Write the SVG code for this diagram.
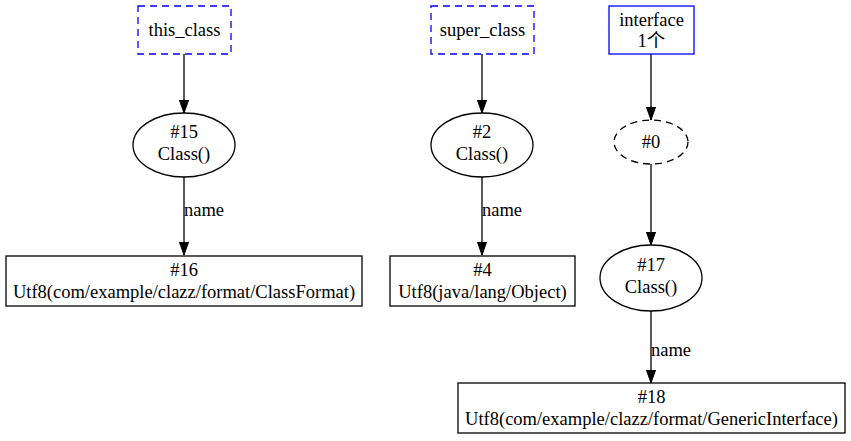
<svg xmlns="http://www.w3.org/2000/svg" width="851" height="441" viewBox="0 0 851 441">
<defs>
<marker id="arr" markerWidth="14" markerHeight="10" refX="13.3" refY="4.7" orient="auto" markerUnits="userSpaceOnUse">
<path d="M0,0 L13.3,4.7 L0,9.4 Z" fill="#000" stroke="#000" stroke-width="1"/>
</marker>
</defs>
<style>
text{font-family:"Liberation Serif","Times New Roman",serif;font-size:18.5px;fill:#000;text-anchor:middle}
.lbl{text-anchor:start}
.dash{fill:none;stroke:#0000ff;stroke-width:1.3;stroke-dasharray:7,5}
.blue{fill:none;stroke:#0000ff;stroke-width:1.3}
.box{fill:none;stroke:#000;stroke-width:1.3}
.ell{fill:none;stroke:#000;stroke-width:1.3}
.dell{fill:none;stroke:#000;stroke-width:1.3;stroke-dasharray:7,5}
.edge{fill:none;stroke:#000;stroke-width:1.3;marker-end:url(#arr)}
</style>
<rect width="851" height="441" fill="#fff"/>
<g id="connectors">
<line class="edge" x1="184" y1="54" x2="184" y2="113"/>
<line class="edge" x1="184" y1="177" x2="184" y2="255"/>
<text class="lbl" x="184" y="216">name</text>
<line class="edge" x1="482" y1="54" x2="482" y2="113"/>
<line class="edge" x1="482" y1="177" x2="482" y2="255"/>
<text class="lbl" x="482" y="216">name</text>
<line class="edge" x1="651" y1="54" x2="651" y2="120"/>
<line class="edge" x1="651" y1="164" x2="651" y2="245"/>
<line class="edge" x1="651" y1="311" x2="651" y2="383"/>
<text class="lbl" x="651" y="356">name</text>
</g>
<g id="this_class">
<rect class="dash" x="138" y="6" width="93" height="48"/>
<text x="184.5" y="36">this_class</text>
</g>
<g id="n15">
<ellipse class="ell" cx="184" cy="145" rx="51" ry="32"/>
<text x="184" y="138">#15</text>
<text x="184" y="160">Class()</text>
</g>
<g id="n16">
<rect class="box" x="6" y="256" width="356" height="50"/>
<text x="184" y="276">#16</text>
<text x="184" y="298">Utf8(com/example/clazz/format/ClassFormat)</text>
</g>
<g id="super_class">
<rect class="dash" x="431" y="6" width="103" height="48"/>
<text x="482.5" y="36">super_class</text>
</g>
<g id="n2">
<ellipse class="ell" cx="482" cy="145" rx="51" ry="32"/>
<text x="482" y="138">#2</text>
<text x="482" y="160">Class()</text>
</g>
<g id="n4">
<rect class="box" x="390" y="256" width="185" height="50"/>
<text x="482.5" y="276">#4</text>
<text x="482.5" y="298">Utf8(java/lang/Object)</text>
</g>
<g id="interface">
<rect class="blue" x="609" y="6" width="85" height="48"/>
<text x="651.5" y="26">interface</text>
<text x="651.5" y="47" style="font-family:'Liberation Serif','Noto Sans CJK SC',serif">1个</text>
</g>
<g id="n0">
<ellipse class="dell" cx="651" cy="142" rx="37" ry="22"/>
<text x="651" y="148">#0</text>
</g>
<g id="n17">
<ellipse class="ell" cx="651" cy="278" rx="51" ry="33"/>
<text x="651" y="271">#17</text>
<text x="651" y="293">Class()</text>
</g>
<g id="n18">
<rect class="box" x="458" y="383" width="387" height="50"/>
<text x="651.5" y="403">#18</text>
<text x="651.5" y="425">Utf8(com/example/clazz/format/GenericInterface)</text>
</g>
</svg>
